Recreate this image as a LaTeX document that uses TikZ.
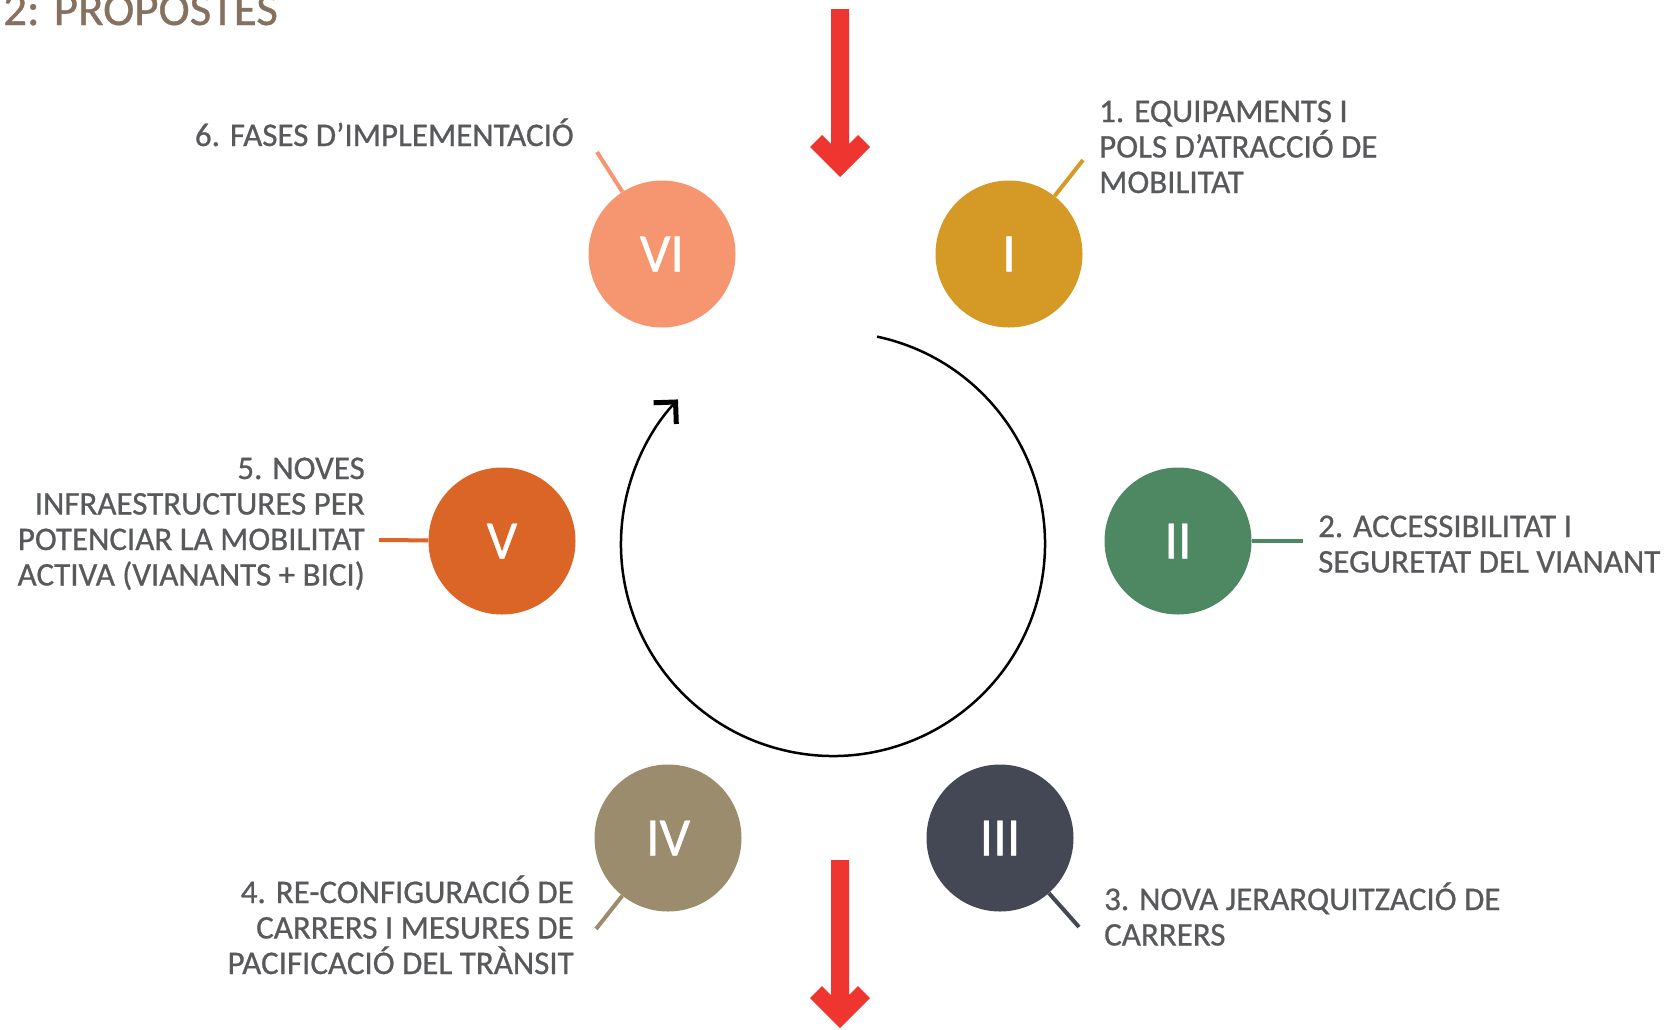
\documentclass[tikz,border=0pt]{standalone}
\usepackage{fontspec}
\setmainfont{Carlito}
\newfontfamily\lblfont{Carlito}[FakeBold=0.7]
\usetikzlibrary{arrows.meta}
\definecolor{txt}{HTML}{58595B}
\definecolor{ttl}{HTML}{86705F}
\definecolor{cI}{HTML}{D59A26}
\definecolor{cII}{HTML}{4E8862}
\definecolor{cIII}{HTML}{444854}
\definecolor{cIV}{HTML}{9B8C6E}
\definecolor{cV}{HTML}{DB6427}
\definecolor{cVI}{HTML}{F69670}
\definecolor{redarrow}{HTML}{EE3530}
\begin{document}
\begin{tikzpicture}[x=1pt,y=-1pt,
  bubble/.style={circle, minimum size=147pt, inner sep=0pt, text=white, font=\lblfont\fontsize{54}{54}\selectfont},
  lbl/.style={text=txt, font=\lblfont\fontsize{33}{35.5}\selectfont, inner sep=0pt},
  tick/.style={line width=4pt},
  bigarrow/.style={fill=redarrow}]
\useasboundingbox (0,0) rectangle (1679,1029);
\fill[white] (0,0) rectangle (1679,1029);

% title
\node[anchor=base west, text=ttl, font=\lblfont\fontsize{47}{47}\selectfont, inner sep=0pt] (title) at (3,25) {2: PROPOSTES};

% red arrows
\fill[bigarrow] (831,9) -- (849,9) -- (849,144) -- (858,135) -- (870,147) -- (840,177) -- (810,147) -- (822,135) -- (831,144) -- cycle;
\begin{scope}[yshift=-851pt]
\fill[bigarrow] (831,9) -- (849,9) -- (849,144) -- (858,135) -- (870,147) -- (840,177) -- (810,147) -- (822,135) -- (831,144) -- cycle;
\end{scope}

% cycle arrow
\coordinate (ctr) at (833,544);
\draw[line width=2.5pt, -{Straight Barb[angle=90:22pt, line width=5pt]}] (ctr) ++(-78:212) arc[start angle=-78, end angle=223, radius=212];

% circles
\node[bubble, fill=cI]   (c1) at (1009,254) {I};
\node[bubble, fill=cII]  (c2) at (1178,541) {II};
\node[bubble, fill=cIII] (c3) at (1000,838) {III};
\node[bubble, fill=cIV]  (c4) at (668,838) {IV};
\node[bubble, fill=cV]   (c5) at (502,541) {V};
\node[bubble, fill=cVI]  (c6) at (662,254) {VI};

% connector ends
\coordinate (e1) at (1083,160);
\coordinate (e2) at (1303,541);
\coordinate (e3) at (1079,927);
\coordinate (e4) at (596,929);
\coordinate (e5) at (379,540);
\coordinate (e6) at (597,152);
\draw[tick, draw=cI]   (c1) -- (e1);
\draw[tick, draw=cII]  (c2) -- (e2);
\draw[tick, draw=cIII] (c3) -- (e3);
\draw[tick, draw=cIV]  (c4) -- (e4);
\draw[tick, draw=cV]   (c5) -- (e5);
\draw[tick, draw=cVI]  (c6) -- (e6);

% labels (base anchor = baseline of last line)
\node[lbl, anchor=base west, align=left] (t1) at (1099,193) {1. EQUIPAMENTS I\\POLS D’ATRACCIÓ DE\\MOBILITAT};
\node[lbl, anchor=base west, align=left] (t2) at (1318,572.5) {2. ACCESSIBILITAT I\\SEGURETAT DEL VIANANT};
\node[lbl, anchor=base west, align=left] (t3) at (1104,945.5) {3. NOVA JERARQUITZACIÓ DE\\CARRERS};
\node[lbl, anchor=base east, align=right] (t4) at (574,974) {4. RE-CONFIGURACIÓ DE\\CARRERS I MESURES DE\\PACIFICACIÓ DEL TRÀNSIT};
\node[lbl, anchor=base east, align=right] (t5) at (365,585.5) {5. NOVES\\INFRAESTRUCTURES PER\\POTENCIAR LA MOBILITAT\\ACTIVA (VIANANTS + BICI)};
\node[lbl, anchor=base east, align=right] (t6) at (574,146) {6. FASES D’IMPLEMENTACIÓ};
\end{tikzpicture}
\end{document}
